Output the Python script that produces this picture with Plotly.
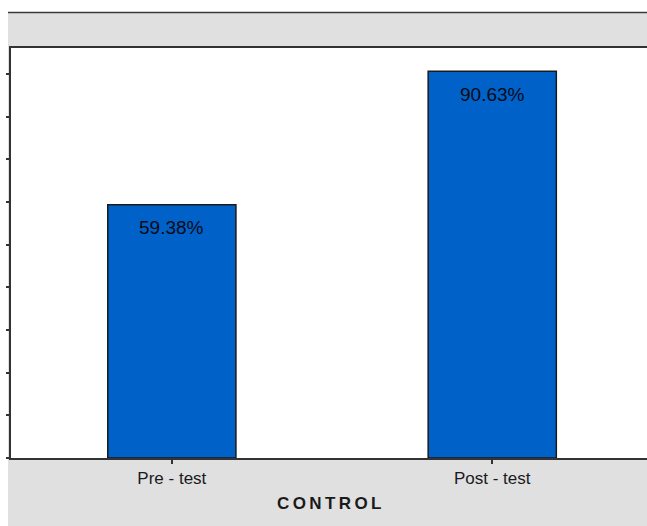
import plotly.graph_objects as go

# Data
categories = ["Pre - test", "Post - test"]
scores = [59.38, 90.63]
group_label = "CONTROL"

W, H = 647, 526
# pixel geometry of the plotting frame
left_px, right_px = 11, 647
top_px, bottom_px = 48, 458

AXIS = "#333333"
BAR = "#0062C8"
GRAY = "#E0E0E0"

fig = go.Figure()
fig.add_trace(go.Bar(
    x=categories,
    y=scores,
    width=0.4,
    marker=dict(color=BAR, line=dict(color="#1A1A1A", width=1.5)),
    hoverinfo="skip",
))

# value labels just inside the top of each bar
annotations = []
for c, v in zip(categories, scores):
    annotations.append(dict(
        x=c, y=v, xref="x", yref="y", text=f"{v:.2f}%",
        showarrow=False, yanchor="middle", yshift=-23,
        font=dict(family="Liberation Sans, Arial", size=19, color="#0A0A14"),
    ))

# group title under the axis
annotations.append(dict(
    x=(left_px + right_px) / 2 / W, y=(H - 503) / H, xref="paper", yref="paper",
    text="\u2009".join(group_label), showarrow=False,
    xanchor="center", yanchor="middle",
    font=dict(family="Liberation Sans, Arial", size=17, color="#1A1A1A", weight="bold"),
))

shapes = [
    # white strip on the left and across the top
    dict(type="rect", xref="paper", yref="paper", x0=0, x1=8 / W, y0=0, y1=1,
         fillcolor="white", line=dict(width=0), layer="below"),
    dict(type="rect", xref="paper", yref="paper", x0=0, x1=1, y0=(H - 12) / H, y1=1,
         fillcolor="white", line=dict(width=0), layer="below"),
    # thin rule above the header band
    dict(type="line", xref="paper", yref="paper", x0=8 / W, x1=1,
         y0=(H - 12.5) / H, y1=(H - 12.5) / H, line=dict(color="#3A3A3A", width=1.5)),
]

y_top = (bottom_px - top_px) / 4.267

fig.update_layout(
    width=W, height=H,
    margin=dict(l=0, r=0, t=0, b=0),
    paper_bgcolor=GRAY,
    plot_bgcolor="white",
    showlegend=False,
    annotations=annotations,
    shapes=shapes,
    xaxis=dict(
        domain=[left_px / W, right_px / W],
        range=[-0.502, 1.483],
        showline=True, linecolor=AXIS, linewidth=2, mirror=True,
        ticks="outside", ticklen=4, tickwidth=1.5, tickcolor=AXIS,
        tickfont=dict(family="Liberation Sans, Arial", size=17, color="#1A1A22"),
        showgrid=False, zeroline=False, fixedrange=True,
    ),
    yaxis=dict(
        domain=[(H - bottom_px) / H, (H - top_px) / H],
        range=[0, y_top],
        dtick=10, tick0=0,
        showline=True, linecolor=AXIS, linewidth=2,
        ticks="outside", ticklen=3, tickwidth=2, tickcolor=AXIS,
        showticklabels=False,
        showgrid=False, zeroline=False, fixedrange=True,
    ),
)

fig.write_html("out.html")
